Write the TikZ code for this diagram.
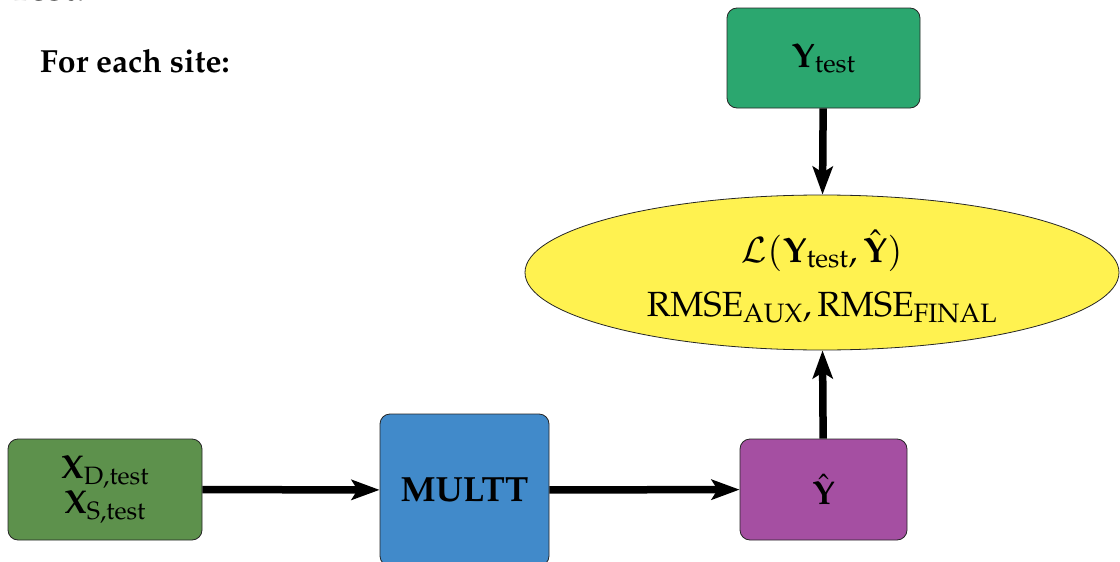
\documentclass[tikz,border=0pt]{standalone}
\usepackage[T1]{fontenc}
\usepackage{mathpazo}
\usetikzlibrary{arrows.meta,shapes.geometric}

\definecolor{targetgreen}{RGB}{43,167,111}
\definecolor{inputgreen}{RGB}{93,145,76}
\definecolor{modelblue}{RGB}{65,138,202}
\definecolor{predpurple}{RGB}{165,79,162}
\definecolor{lossyellow}{RGB}{255,242,80}

\begin{document}
\begin{tikzpicture}[x=1pt,y=-1pt,
  box/.style={draw=black!85, line width=0.8pt, rounded corners=10pt,
    inner sep=0pt, align=center},
  flow/.style={line width=7.5pt,
    -{Stealth[length=28pt,width=20pt,inset=6pt]}},
  heading/.style={anchor=base west, inner sep=0pt,
    font=\fontsize{32}{36}\selectfont\bfseries}]
\useasboundingbox (0,0) rectangle (1120,562);

% headings
\node[heading, font=\fontsize{37}{40}\selectfont\bfseries] (title) at (8,0) {Test:};
\node[heading] (site) at (40,72) {For each site:};

% blocks
\node[box, fill=targetgreen, minimum width=193pt, minimum height=100pt,
      font=\fontsize{34}{40}\selectfont] (ytest) at (823.5,58)
      {$\mathbf{Y}_{\mathrm{test}}$};
\node[ellipse, draw=black!85, line width=0.8pt, fill=lossyellow, inner sep=0pt,
      minimum width=594pt, minimum height=155pt, align=center,
      font=\fontsize{35}{54}\selectfont] (loss) at (822,272.5)
      {\rule{0pt}{40pt}$\mathcal{L}(\mathbf{Y}_{\mathrm{test}}, \hat{\mathbf{Y}})$\\
       $\mathrm{RMSE}_{\mathrm{AUX}}, \mathrm{RMSE}_{\mathrm{FINAL}}$};
\node[box, fill=inputgreen, minimum width=194pt, minimum height=101pt,
      font=\fontsize{33}{35}\selectfont] (xin) at (105,489.5)
      {$\mathbf{X}_{\mathrm{D,test}}$\\$\mathbf{X}_{\mathrm{S,test}}$};
\node[box, fill=modelblue, minimum width=169pt, minimum height=152pt,
      font=\fontsize{35}{40}\selectfont\bfseries] (model) at (464.5,490) {MULTT};
\node[box, fill=predpurple, minimum width=167pt, minimum height=101pt,
      font=\fontsize{33}{40}\selectfont] (yhat) at (823.5,489.5)
      {$\hat{\mathbf{Y}}$};

% connectors
\draw[flow] (xin) -- (model);
\draw[flow] (model) -- (yhat);
\draw[flow] (ytest) -- (loss);
\draw[flow] (yhat) -- (loss);
\end{tikzpicture}
\end{document}
